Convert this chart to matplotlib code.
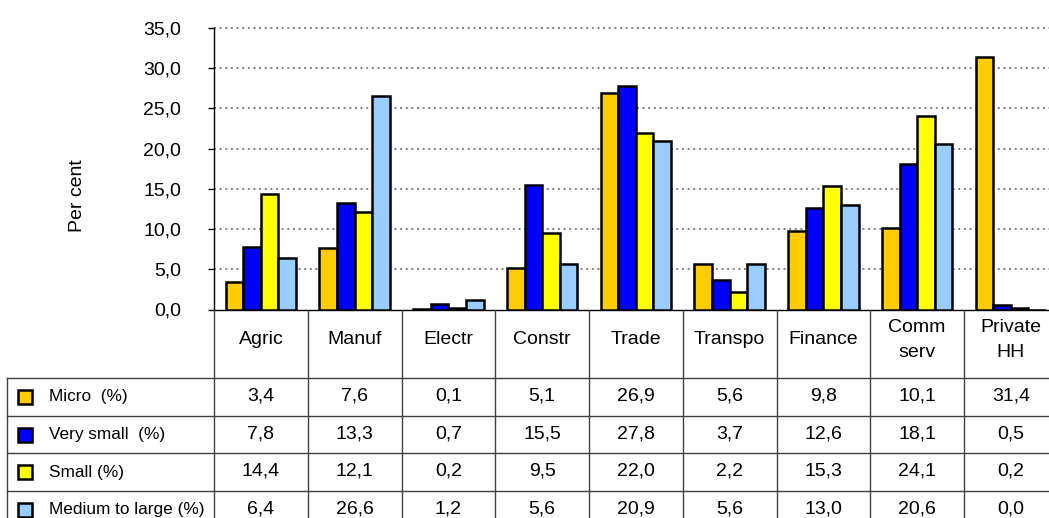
import numpy as np
import matplotlib
matplotlib.use('Agg')
import matplotlib.pyplot as plt
from matplotlib.patches import Rectangle
from matplotlib.ticker import FuncFormatter, MultipleLocator

plt.rcParams['font.family'] = ['Liberation Sans', 'DejaVu Sans']

# データ（業種別・企業規模別の構成比）
categories = ['Agric', 'Manuf', 'Electr', 'Constr', 'Trade', 'Transpo',
              'Finance', 'Comm\nserv', 'Private\nHH']
series_names = ['Micro  (%)', 'Very small  (%)', 'Small (%)', 'Medium to large (%)']
micro = [3.4, 7.6, 0.1, 5.1, 26.9, 5.6, 9.8, 10.1, 31.4]
very_small = [7.8, 13.3, 0.7, 15.5, 27.8, 3.7, 12.6, 18.1, 0.5]
small = [14.4, 12.1, 0.2, 9.5, 22.0, 2.2, 15.3, 24.1, 0.2]
medium_large = [6.4, 26.6, 1.2, 5.6, 20.9, 5.6, 13.0, 20.6, 0.0]
series = [micro, very_small, small, medium_large]
colors = ['#FFCC00', '#0000FF', '#FFFF00', '#99CCFF']

# レイアウト（ピクセル単位）
W, H = 1049, 518
x0 = 214          # プロット左端
col_w = 93.75     # 1カテゴリの幅
y_zero = 309.5    # 0の位置
y_top = 28        # 35の位置
header_bottom = 378
row_h = 37.7
table_left = 7
fs = 14           # 目盛・カテゴリ・数値
fs_row = 12.4     # 行ラベル

fig = plt.figure(figsize=(W / 100, H / 100), dpi=100)

# 棒グラフ
ax = fig.add_axes([x0 / W, (H - y_zero) / H, len(categories) * col_w / W, (y_zero - y_top) / H])
n = len(series)
bw = 0.1875
x = np.arange(len(categories))
for i, (vals, c) in enumerate(zip(series, colors)):
    ax.bar(x + (i - (n - 1) / 2) * bw, vals, width=bw, color=c,
           edgecolor='black', linewidth=1.8, zorder=3)

ax.set_xlim(-0.5, len(categories) - 0.5)
ax.set_ylim(0, 35)
ax.yaxis.set_major_locator(MultipleLocator(5))
ax.yaxis.set_major_formatter(FuncFormatter(lambda v, p: f'{v:.1f}'.replace('.', ',')))
ax.tick_params(axis='y', length=4.5, width=1, pad=19, labelsize=fs)
ax.set_xticks([])
for s in ['top', 'right']:
    ax.spines[s].set_visible(False)
ax.spines['left'].set_linewidth(1)
ax.spines['bottom'].set_linewidth(1)
for v in range(5, 40, 5):
    ax.axhline(v, color='#808080', linewidth=1.4, linestyle=(0, (1, 1.9)), zorder=1, clip_on=False)

fig.text(78 / W, 1 - 196 / H, 'Per cent', rotation=90, ha='center', va='center', fontsize=fs)

# データテーブル
tab = fig.add_axes([0, 0, 1, (H - y_zero) / H])
tab.set_xlim(0, W)
tab.set_ylim(H, y_zero)
tab.axis('off')
lc = '#404040'
right_edge = x0 + len(categories) * col_w
n_rows = len(series)
row_lines = [header_bottom + k * row_h for k in range(n_rows + 1)]

for k in range(len(categories) + 1):
    tab.plot([x0 + k * col_w] * 2, [y_zero, H], color=lc, linewidth=1)
tab.plot([table_left] * 2, [header_bottom, H], color=lc, linewidth=1)
for yl in row_lines[:-1]:
    tab.plot([table_left, right_edge], [yl, yl], color=lc, linewidth=1)

for k, cat in enumerate(categories):
    tab.text(x0 + (k + 0.5) * col_w, (y_zero + header_bottom) / 2 - 4, cat,
             ha='center', va='center', fontsize=fs, linespacing=1.6)

for r, (name, vals, c) in enumerate(zip(series_names, series, colors)):
    yc = row_lines[r] + row_h / 2
    tab.add_patch(Rectangle((18, yc - 7), 14, 14, facecolor=c, edgecolor='black', linewidth=1.8))
    tab.text(49, yc, name, ha='left', va='center', fontsize=fs_row)
    for k, v in enumerate(vals):
        tab.text(x0 + (k + 0.5) * col_w, yc - 1, f'{v:.1f}'.replace('.', ','),
                 ha='center', va='center', fontsize=fs)

fig.savefig('out.png', dpi=100)
